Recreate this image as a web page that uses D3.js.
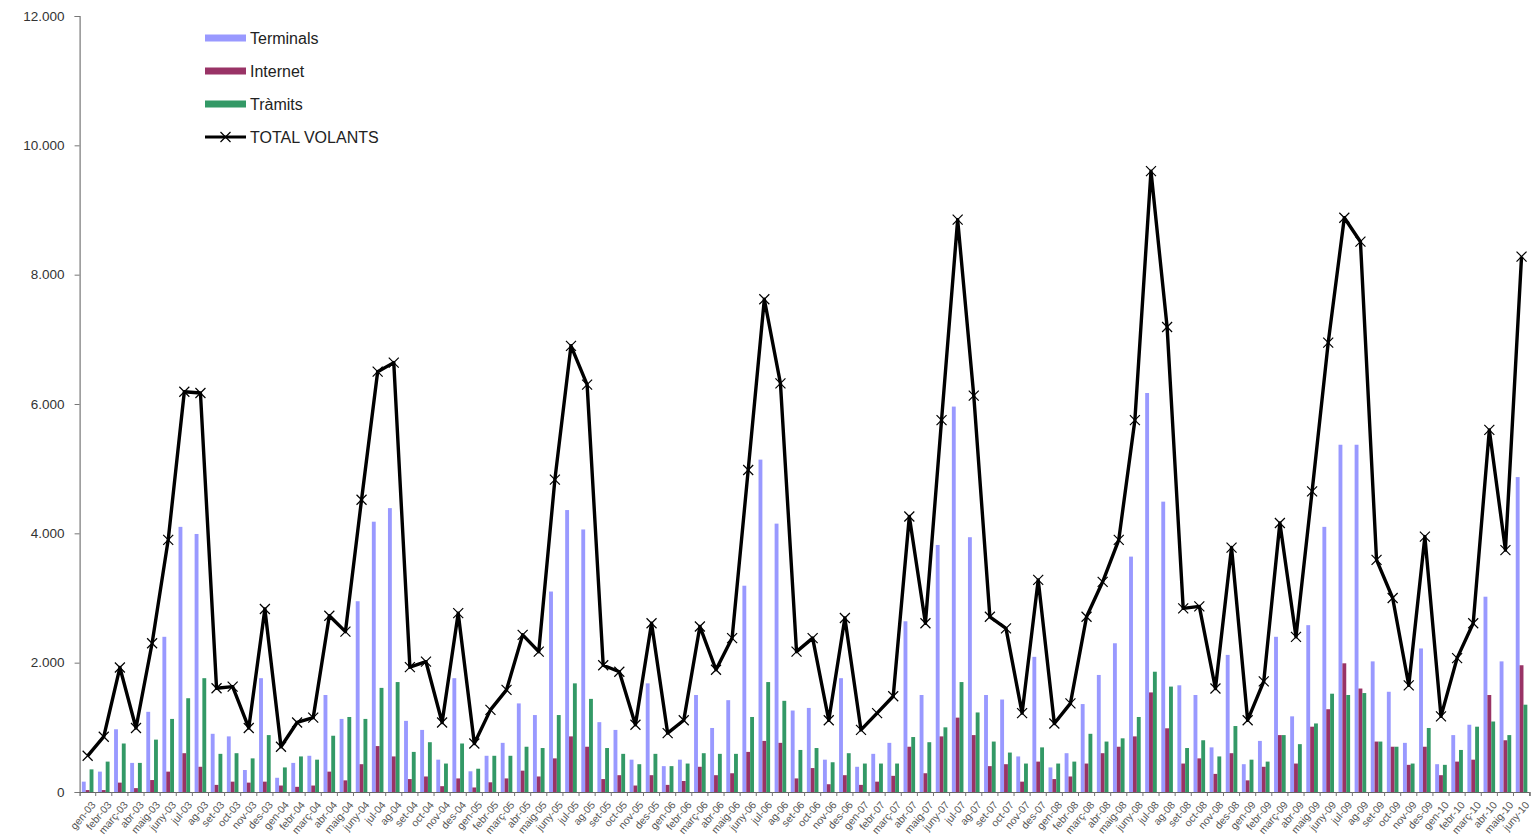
<!DOCTYPE html>
<html><head><meta charset="utf-8">
<script src="https://cdn.jsdelivr.net/npm/d3@7"></script>
<style>html,body{margin:0;padding:0;background:#fff;}svg{display:block;font-family:Arial,"Liberation Sans",sans-serif;}</style>
</head><body>
<svg id="chart" width="1532" height="839"></svg>
<script>
const monthNames = ["gen","febr","març","abr","maig","juny","jul","ag","set","oct","nov","des"];
const years = ["03","04","05","06","07","08","09","10"];
const categories = [];
for (let i = 0; i < 90; i++) categories.push(monthNames[i % 12] + "-" + years[Math.floor(i / 12)]);

const terminals = [160,315,970,450,1240,2400,4100,3990,900,860,340,1760,
  220,450,560,1500,1130,2950,4180,4390,1100,960,500,1760,
  320,560,760,1370,1190,3100,4360,4060,1080,960,500,1680,
  400,500,1500,990,1420,3190,5140,4150,1260,1300,500,1760,
  390,590,760,2640,1500,3820,5960,3940,1500,1430,550,2090,
  380,600,1360,1810,2300,3640,6170,4490,1650,1500,690,2120,
  430,790,2400,1170,2580,4100,5370,5370,2020,1550,760,2220,
  430,880,1040,3020,2020,4870];
const internet = [30,30,145,60,185,315,600,390,110,160,145,160,
  100,80,100,315,180,430,710,550,200,240,90,210,
  70,150,210,330,240,520,860,700,200,260,100,260,
  110,170,390,260,290,620,790,760,210,370,120,260,
  110,160,250,700,290,860,1150,880,400,430,160,470,
  200,240,440,600,700,860,1540,985,440,520,280,600,
  180,390,880,440,1010,1280,1990,1600,780,700,420,700,
  260,470,500,1500,800,1960];
const tramits = [350,470,750,450,810,1130,1450,1760,590,600,520,880,
  380,550,500,870,1160,1130,1610,1700,620,770,440,750,
  360,560,560,700,680,1190,1680,1440,680,590,430,590,
  400,440,600,590,590,1160,1700,1410,650,680,460,600,
  440,440,440,850,770,1000,1700,1230,780,610,440,690,
  440,470,900,780,830,1160,1860,1630,680,800,550,1020,
  500,470,880,740,1060,1520,1500,1530,780,700,440,990,
  420,650,1010,1090,880,1350];
const totalVolants = [560,855,1925,990,2300,3900,6190,6170,1605,1630,990,2830,
  700,1075,1150,2725,2480,4520,6500,6640,1930,2015,1075,2765,
  750,1270,1580,2430,2170,4830,6900,6300,1960,1860,1040,2610,
  910,1110,2560,1890,2380,4980,7620,6320,2170,2380,1110,2690,
  960,1220,1480,4260,2610,5750,8850,6130,2710,2530,1220,3280,
  1060,1370,2710,3250,3900,5750,9600,7190,2840,2870,1600,3780,
  1110,1710,4160,2400,4650,6950,8880,8510,3590,3000,1650,3950,
  1170,2070,2610,5600,3740,8280];
const yTicks = [0,2000,4000,6000,8000,10000,12000];

const barSeries = [
  {name:"Terminals", values:terminals, color:"#9999FF"},
  {name:"Internet", values:internet, color:"#993366"},
  {name:"Tràmits", values:tramits, color:"#339966"}
];
const lineSeries = {name:"TOTAL VOLANTS", values:totalVolants, color:"#000"};

const svg = d3.select("#chart");
const plotLeft = 79.6, plotRight = 1529.6, plotTop = 16, plotBottom = 792;

const x = d3.scaleBand().domain(d3.range(categories.length)).range([plotLeft, plotRight]).padding(0);
const groupW = x.bandwidth() * 0.72;
const xs = d3.scaleBand().domain(barSeries.map(s => s.name)).range([-groupW/2, groupW/2]).padding(0);
const y = d3.scaleLinear().domain([0,12000]).range([plotBottom, plotTop]);

const loc = d3.formatLocale({decimal:",", thousands:".", grouping:[3], currency:["","€"]});
const fmt = loc.format(",");

// bars
barSeries.forEach(s => {
  svg.append("g").selectAll("rect").data(s.values).join("rect")
    .attr("x", (d,i) => x(i) + x.bandwidth()/2 + xs(s.name))
    .attr("width", xs.bandwidth())
    .attr("y", d => y(d))
    .attr("height", d => plotBottom - y(d))
    .attr("fill", s.color);
});

// y axis
const yAxis = svg.append("g").attr("transform", `translate(${plotLeft},0)`)
  .call(d3.axisLeft(y).tickValues(yTicks).tickFormat(fmt).tickSize(5).tickPadding(10));
yAxis.select(".domain").attr("stroke","#777").attr("stroke-width",1.2);
yAxis.selectAll(".tick line").attr("stroke","#777");
yAxis.selectAll(".tick text").attr("fill","#333").style("font-size","13.5px").style("font-family","Arial, 'Liberation Sans', sans-serif");

// x axis
const xAxis = svg.append("g").attr("transform", `translate(0,${plotBottom})`)
  .call(d3.axisBottom(x).tickFormat(i => categories[i]).tickSize(4).tickPadding(4));
xAxis.select(".domain").attr("stroke","#666").attr("stroke-width",1.2);
xAxis.selectAll(".tick line").attr("stroke","#777").attr("transform", `translate(${x.bandwidth()/2},0)`);
xAxis.selectAll(".tick text")
  .attr("fill","#555").style("font-size","10.5px").style("font-family","Arial, 'Liberation Sans', sans-serif")
  .attr("text-anchor","end").attr("dy","0.3em")
  .attr("transform","translate(0,6) rotate(-50)");

// total line
const line = d3.line().x((d,i) => x(i) + x.bandwidth()/2).y(d => y(d));
svg.append("path").datum(lineSeries.values).attr("d", line)
  .attr("fill","none").attr("stroke",lineSeries.color).attr("stroke-width",3.4).attr("stroke-linejoin","round");
const m = 5;
svg.append("g").selectAll("path").data(lineSeries.values).join("path")
  .attr("d", (d,i) => {
    const cx = x(i) + x.bandwidth()/2, cy = y(d);
    return `M${cx-m},${cy-m}L${cx+m},${cy+m}M${cx-m},${cy+m}L${cx+m},${cy-m}`;
  })
  .attr("stroke","#000").attr("stroke-width",1.2).attr("fill","none");

// legend
const lg = svg.append("g").attr("transform","translate(205,38)");
barSeries.forEach((s,k) => {
  const g = lg.append("g").attr("transform",`translate(0,${k*33})`);
  g.append("rect").attr("x",0).attr("y",-3.5).attr("width",41).attr("height",7).attr("fill",s.color);
  g.append("text").attr("x",45).attr("y",0).attr("dy","0.35em").text(s.name)
    .attr("fill","#222").style("font-size","16px");
});
{
  const g = lg.append("g").attr("transform",`translate(0,${3*33})`);
  g.append("line").attr("x1",0).attr("x2",41).attr("stroke","#000").attr("stroke-width",3);
  g.append("path").attr("d",`M${20.5-m},${-m}L${20.5+m},${m}M${20.5-m},${m}L${20.5+m},${-m}`).attr("stroke","#000").attr("stroke-width",1.2);
  g.append("text").attr("x",45).attr("y",0).attr("dy","0.35em").text(lineSeries.name)
    .attr("fill","#222").style("font-size","16px");
}
</script>
</body></html>
